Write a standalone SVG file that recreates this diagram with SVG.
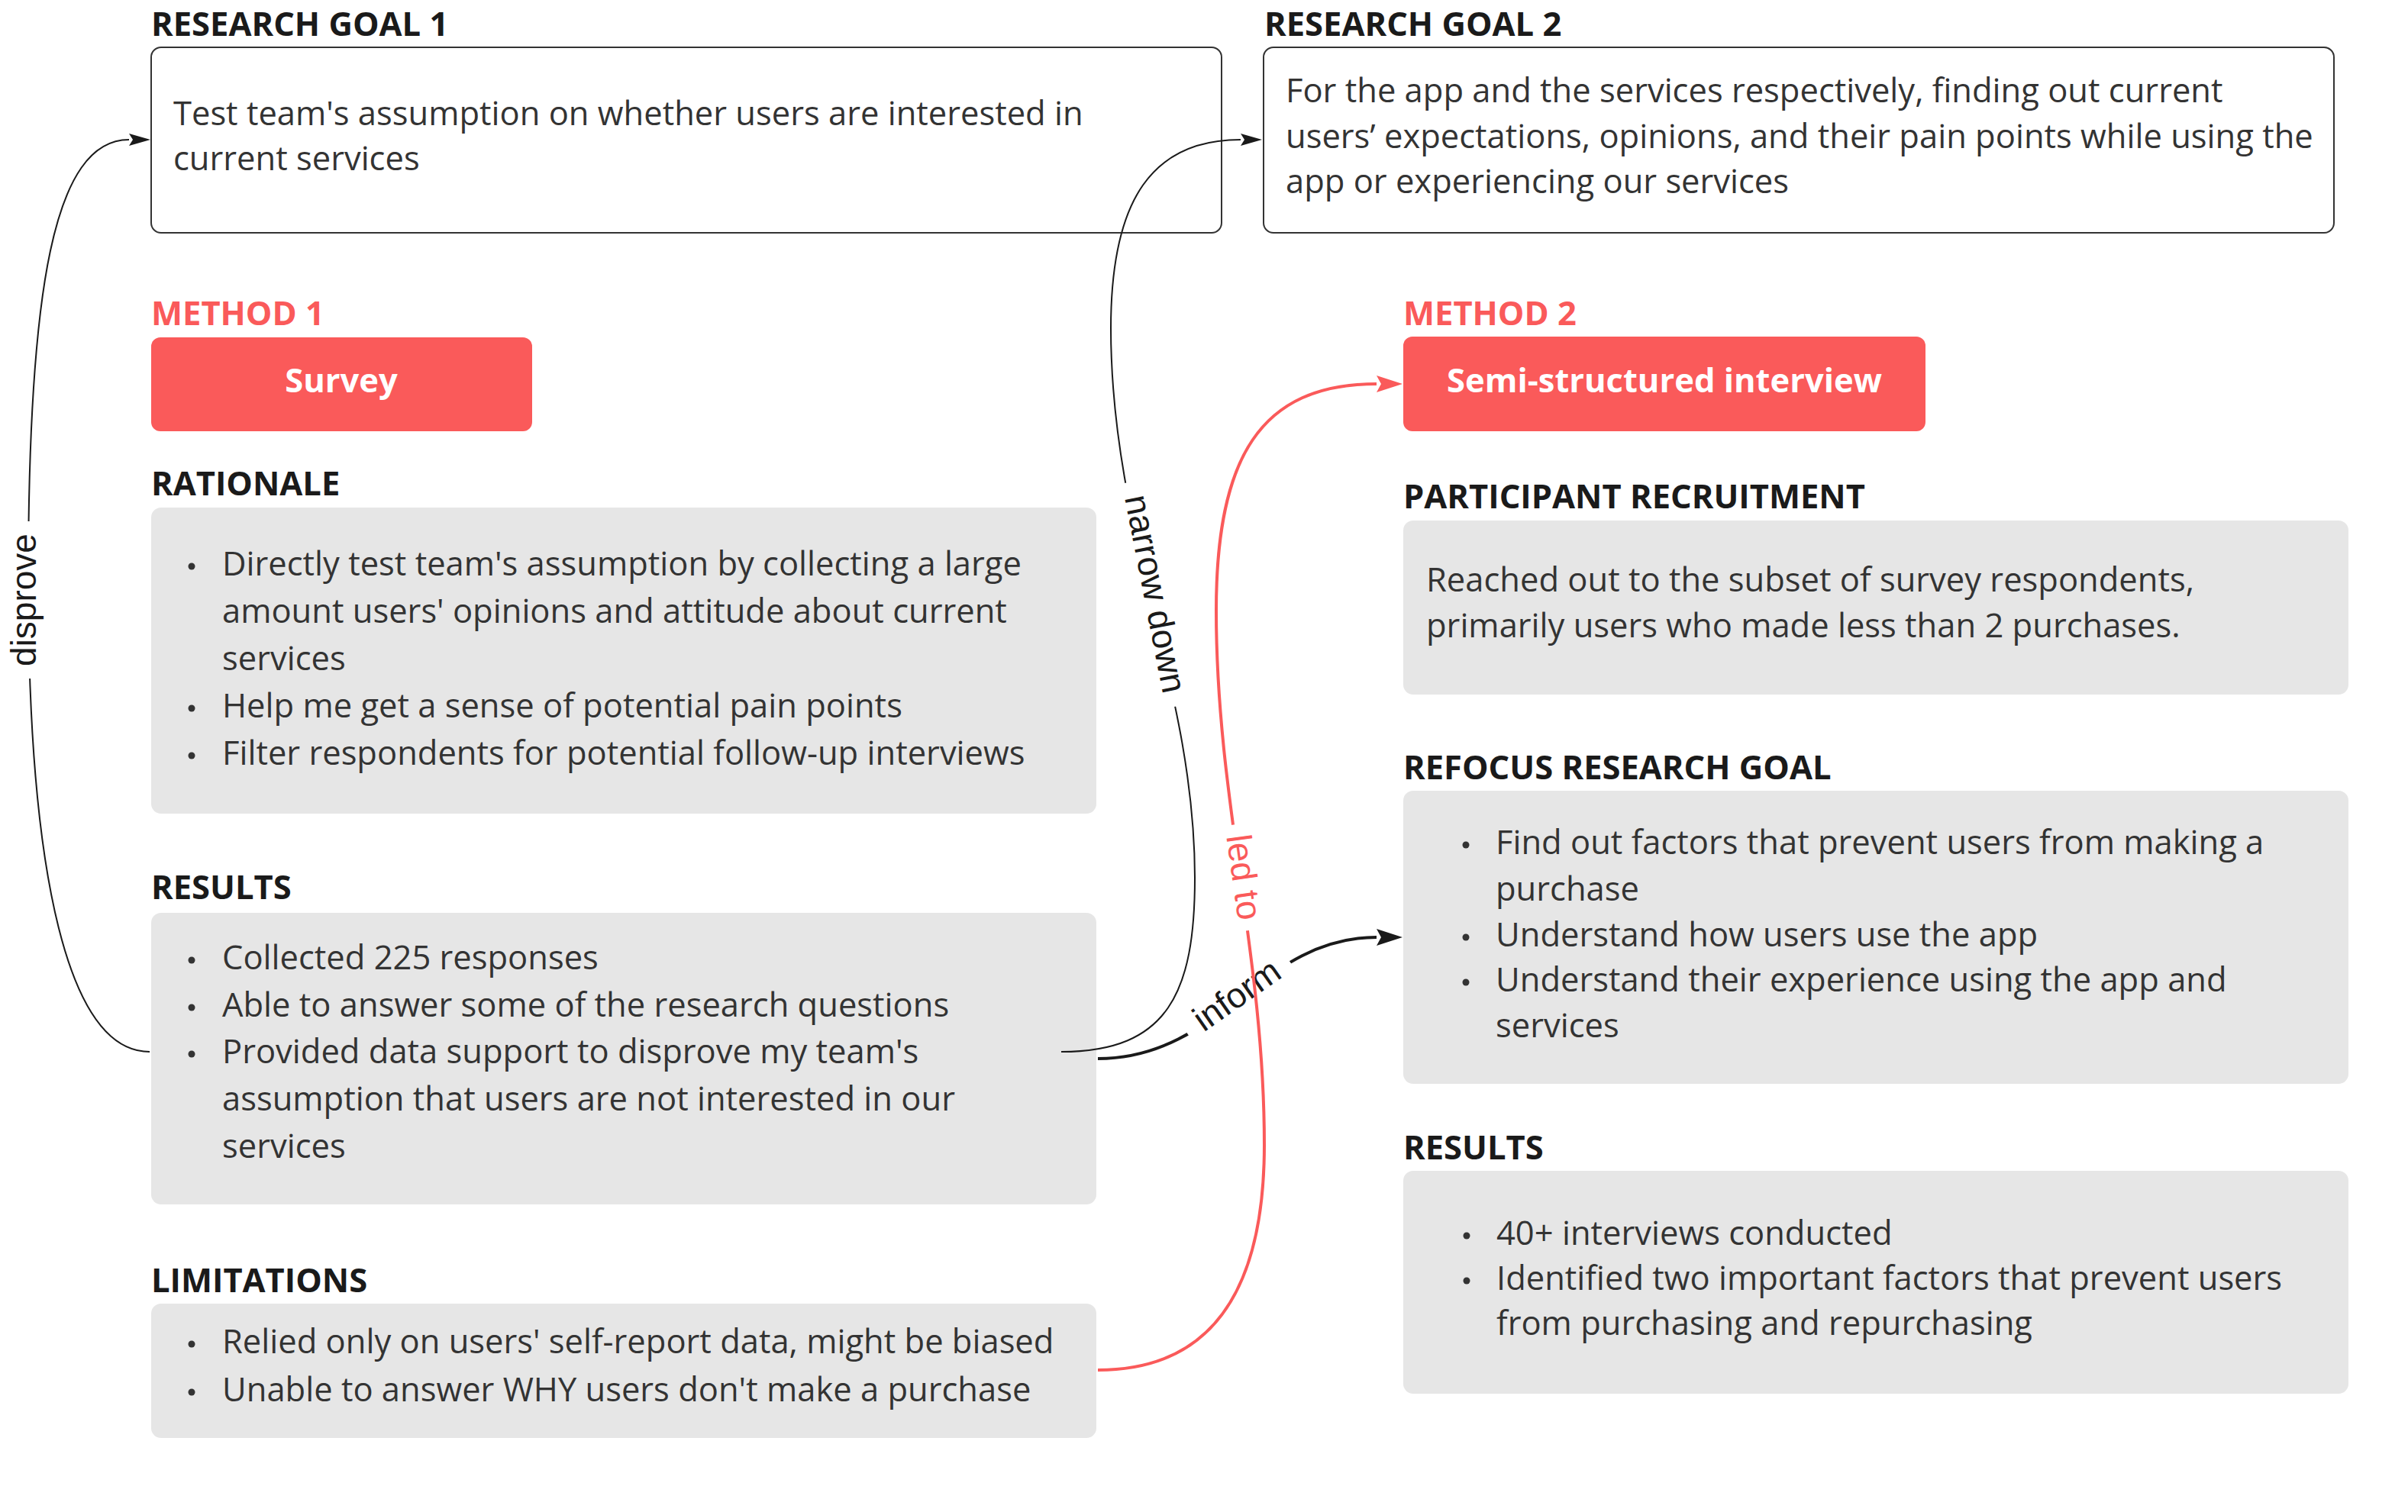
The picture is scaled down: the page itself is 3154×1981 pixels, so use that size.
<svg xmlns="http://www.w3.org/2000/svg" width="3154" height="1981" viewBox="0 0 3154 1981">
<style>
.t{font-family:"Open Sans","Liberation Sans",sans-serif;font-size:43.5px;fill:#333}
.h{font-weight:700;fill:#1a1a1a}
.m{font-weight:700;fill:#FA5A5A}
.b{font-weight:700;fill:#fff;text-anchor:middle}
.box{fill:#fff;stroke:#333;stroke-width:2}
.gray{fill:#E6E6E6}
.btn{fill:#FA5A5A}
.dot{fill:#333}
.c{fill:none;stroke:#1a1a1a}
.thin{stroke-width:2}
.thick{stroke-width:4}
.red{stroke:#FA5A5A;stroke-width:4}
.lbl{font-family:"Liberation Sans",Arial,sans-serif;font-size:46px;text-anchor:middle;fill:#1a1a1a}
.lred{fill:#FA5A5A}
.bg{fill:#fff}
</style>
<defs>
<marker id="ah" markerUnits="userSpaceOnUse" markerWidth="30" markerHeight="16" refX="0" refY="8" orient="auto" overflow="visible">
<path d="M0,0 L28,8 L0,16 L5,8 z" fill="#1a1a1a"/>
</marker>
<marker id="ahL" markerUnits="userSpaceOnUse" markerWidth="36" markerHeight="22" refX="0" refY="11" orient="auto" overflow="visible">
<path d="M0,0 L34,11 L0,22 L6,11 z" fill="#1a1a1a"/>
</marker>
<marker id="ahR" markerUnits="userSpaceOnUse" markerWidth="36" markerHeight="22" refX="0" refY="11" orient="auto" overflow="visible">
<path d="M0,0 L34,11 L0,22 L6,11 z" fill="#FA5A5A"/>
</marker>
</defs>
<rect width="3154" height="1981" fill="#fff"/>

<g id="goal1">
<text class="t h" x="198" y="47">RESEARCH GOAL 1</text>
<rect class="box" x="198" y="62" width="1402" height="243" rx="13"/>
<text class="t" x="227" y="164">Test team's assumption on whether users are interested in</text>
<text class="t" x="227" y="223">current services</text>
</g>

<g id="goal2">
<text class="t h" x="1656" y="47">RESEARCH GOAL 2</text>
<rect class="box" x="1655" y="62" width="1402" height="243" rx="13"/>
<text class="t" x="1684" y="134">For the app and the services respectively, finding out current</text>
<text class="t" x="1684" y="194">users’ expectations, opinions, and their pain points while using the</text>
<text class="t" x="1684" y="253">app or experiencing our services</text>
</g>

<g id="method1">
<text class="t m" x="198" y="426">METHOD 1</text>
<rect class="btn" x="198" y="442" width="499" height="123" rx="12"/>
<text class="t b" x="447" y="514">Survey</text>
</g>

<g id="method2">
<text class="t m" x="1838" y="426">METHOD 2</text>
<rect class="btn" x="1838" y="441" width="684" height="124" rx="12"/>
<text class="t b" x="2180" y="514">Semi-structured interview</text>
</g>

<g id="rationale">
<text class="t h" x="198" y="649">RATIONALE</text>
<rect class="gray" x="198" y="665" width="1238" height="401" rx="13"/>
<circle class="dot" cx="251" cy="742" r="4.5"/>
<text class="t" x="291" y="754">Directly test team's assumption by collecting a large</text>
<text class="t" x="291" y="816">amount users' opinions and attitude about current</text>
<text class="t" x="291" y="878">services</text>
<circle class="dot" cx="251" cy="928" r="4.5"/>
<text class="t" x="291" y="940">Help me get a sense of potential pain points</text>
<circle class="dot" cx="251" cy="990" r="4.5"/>
<text class="t" x="291" y="1002">Filter respondents for potential follow-up interviews</text>
</g>

<g id="results1">
<text class="t h" x="198" y="1178">RESULTS</text>
<rect class="gray" x="198" y="1196" width="1238" height="382" rx="13"/>
<circle class="dot" cx="251" cy="1258" r="4.5"/>
<text class="t" x="291" y="1270">Collected 225 responses</text>
<circle class="dot" cx="251" cy="1320" r="4.5"/>
<text class="t" x="291" y="1332">Able to answer some of the research questions</text>
<circle class="dot" cx="251" cy="1381" r="4.5"/>
<text class="t" x="291" y="1393">Provided data support to disprove my team's</text>
<text class="t" x="291" y="1455">assumption that users are not interested in our</text>
<text class="t" x="291" y="1517">services</text>
</g>

<g id="limitations">
<text class="t h" x="198" y="1693">LIMITATIONS</text>
<rect class="gray" x="198" y="1708" width="1238" height="176" rx="13"/>
<circle class="dot" cx="251" cy="1761" r="4.5"/>
<text class="t" x="291" y="1773">Relied only on users' self-report data, might be biased</text>
<circle class="dot" cx="251" cy="1824" r="4.5"/>
<text class="t" x="291" y="1836">Unable to answer WHY users don't make a purchase</text>
</g>

<g id="recruitment">
<text class="t h" x="1838" y="666">PARTICIPANT RECRUITMENT</text>
<rect class="gray" x="1838" y="682" width="1238" height="228" rx="13"/>
<text class="t" x="1868" y="775">Reached out to the subset of survey respondents,</text>
<text class="t" x="1868" y="835">primarily users who made less than 2 purchases.</text>
</g>

<g id="refocus">
<text class="t h" x="1838" y="1021">REFOCUS RESEARCH GOAL</text>
<rect class="gray" x="1838" y="1036" width="1238" height="384" rx="13"/>
<circle class="dot" cx="1920" cy="1107" r="4.5"/>
<text class="t" x="1959" y="1119">Find out factors that prevent users from making a</text>
<text class="t" x="1959" y="1180">purchase</text>
<circle class="dot" cx="1920" cy="1228" r="4.5"/>
<text class="t" x="1959" y="1240">Understand how users use the app</text>
<circle class="dot" cx="1920" cy="1287" r="4.5"/>
<text class="t" x="1959" y="1299">Understand their experience using the app and</text>
<text class="t" x="1959" y="1359">services</text>
</g>

<g id="results2">
<text class="t h" x="1838" y="1519">RESULTS</text>
<rect class="gray" x="1838" y="1534" width="1238" height="292" rx="13"/>
<circle class="dot" cx="1921" cy="1619" r="4.5"/>
<text class="t" x="1960" y="1631">40+ interviews conducted</text>
<circle class="dot" cx="1921" cy="1678" r="4.5"/>
<text class="t" x="1960" y="1690">Identified two important factors that prevent users</text>
<text class="t" x="1960" y="1749">from purchasing and repurchasing</text>
</g>

<g id="connectors">
<path class="c thin" d="M196,1378 C90,1378 37,1150 37,760 C37,380 70,183 169,183" marker-end="url(#ah)"/>
<g transform="translate(37,786) rotate(-90)">
<rect class="bg" x="-103" y="-12" width="206" height="24"/>
<text class="lbl" x="0" y="10">disprove</text>
</g>

<path class="c thin" d="M1390,1378 C1530,1378 1565,1300 1565,1150 C1565,900 1455,700 1455,430 C1455,260 1510,183 1625,183" marker-end="url(#ah)"/>
<g transform="translate(1508,779) rotate(79)">
<rect class="bg" x="-150" y="-12" width="300" height="24"/>
<text class="lbl" x="0" y="10">narrow down</text>
</g>

<path class="c thick" d="M1438,1387 C1600,1387 1650,1228 1803,1228" marker-end="url(#ahL)"/>
<g transform="translate(1623,1308) rotate(-35)">
<rect class="bg" x="-82" y="-14" width="164" height="28"/>
<text class="lbl" x="0" y="10">inform</text>
</g>

<path class="c red" d="M1438,1795 C1580,1795 1656,1700 1656,1500 C1656,1250 1593,1050 1593,800 C1593,600 1650,503 1803,503" marker-end="url(#ahR)"/>
<g transform="translate(1624,1150) rotate(82)">
<rect class="bg" x="-70" y="-14" width="140" height="28"/>
<text class="lbl lred" x="0" y="10">led to</text>
</g>
</g>
</svg>
